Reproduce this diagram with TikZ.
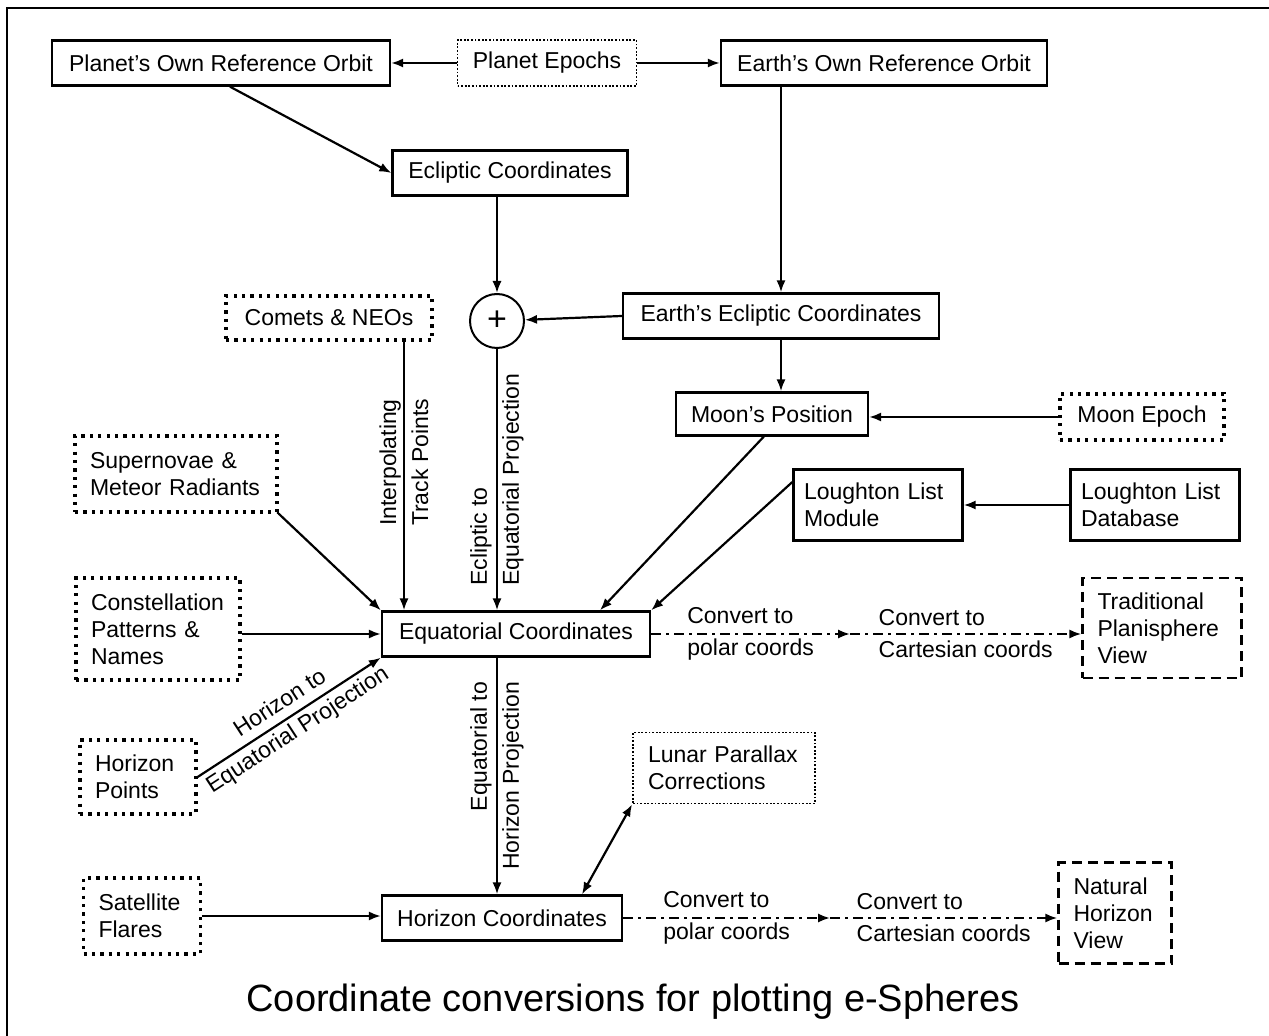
\documentclass[tikz,border=0pt]{standalone}
\usepackage{fontspec}
\setmainfont{Liberation Sans}
\usepackage{tikz}
\usetikzlibrary{arrows.meta,shapes}

\begin{document}
\begin{tikzpicture}[x=0.5pt,y=-0.5pt,>={Latex[length=6pt,width=4.6pt]},
every node/.style={font=\fontsize{11.5}{13.5}\selectfont},
solidbox/.style={draw,line width=1.2pt,minimum height=22.5pt,inner xsep=7.5pt},
srcbox/.style={draw,line width=1.6pt,dash pattern=on 1.6pt off 2.6pt,inner xsep=7.5pt},
epochbox/.style={draw,line width=0.9pt,dash pattern=on 0.9pt off 0.9pt,inner xsep=7.5pt},
viewbox/.style={draw,line width=1.2pt,dash pattern=on 5pt off 3pt,inner xsep=7.5pt},
multi/.style={align=left},
lbl/.style={font=\fontsize{11.5}{16}\selectfont},
link/.style={line width=1.1pt,->},
convert/.style={line width=1.1pt,->,dash pattern=on 5pt off 2.5pt on 1.5pt off 2.5pt}]
\useasboundingbox (0,0) rectangle (1269,1036);
\draw[line width=1.2pt] (7,1036) |- (1269,8);
\node[solidbox,minimum width=169pt] (planet) at (221,63) {Planet's Own Reference Orbit};
\node[epochbox,minimum width=89.5pt,minimum height=23pt] (pepoch) at (547,63) {Planet Epochs};
\node[solidbox,minimum width=163pt] (earth) at (884,63) {Earth's Own Reference Orbit};
\node[solidbox,minimum width=117.5pt] (eclip) at (510,173) {Ecliptic Coordinates};
\node[draw,circle,line width=1pt,minimum size=27pt,inner sep=0pt,font=\fontsize{17}{17}\selectfont] (plus) at (497,321) {+};
\node[solidbox,minimum width=158pt] (eecl) at (781,316) {Earth's Ecliptic Coordinates};
\node[srcbox,minimum width=103pt,minimum height=22pt] (comets) at (329,318) {Comets \& NEOs};
\node[solidbox,minimum width=95pt,minimum height=21.5pt] (moonpos) at (772,414) {Moon's Position};
\node[srcbox,minimum width=82pt,minimum height=23pt] (moonep) at (1142,417) {Moon Epoch};
\node[srcbox,multi,text width=86pt,minimum height=38pt] (snova) at (176,474) {Supernovae \&\\Meteor Radiants};
\node[solidbox,multi,text width=74pt,inner xsep=5.25pt,minimum height=35.5pt] (loughmod) at (878,505) {Loughton List\\Module};
\node[solidbox,multi,text width=74pt,inner xsep=5.25pt,minimum height=35.5pt] (loughdb) at (1155,505) {Loughton List\\Database};
\node[srcbox,multi,text width=67pt,minimum height=51pt] (constel) at (158,629) {Constellation\\Patterns \&\\Names};
\node[solidbox,minimum width=134pt] (equat) at (516,634) {Equatorial Coordinates};
\node[viewbox,multi,text width=64.5pt,minimum height=50pt] (trad) at (1162,628) {Traditional\\Planisphere\\View};
\node[srcbox,multi,text width=43pt,minimum height=37pt] (hpoints) at (138,777) {Horizon\\Points};
\node[epochbox,multi,text width=76pt,minimum height=35.5pt] (lunar) at (724,768) {Lunar Parallax\\Corrections};
\node[srcbox,multi,text width=43.5pt,minimum height=38pt] (satfl) at (142,916) {Satellite\\Flares};
\node[solidbox,minimum width=120pt] (horiz) at (502,918) {Horizon Coordinates};
\node[viewbox,multi,text width=41.5pt,minimum height=50.5pt] (natural) at (1115,913) {Natural\\Horizon\\View};
\node (title) at (633,1002) {\fontsize{19}{22}\selectfont Coordinate conversions for plotting e-Spheres};
\coordinate (cvA) at (850,634);
\coordinate (cvB) at (830,918);
\draw[link] (pepoch.west) -- (planet.east);
\draw[link] (pepoch.east) -- (earth.west);
\draw[link] ([xshift=4.5pt]planet.south) -- (eclip.west);
\draw[link] (eclip.south -| plus.north) -- (plus.north);
\draw[link] (earth.south -| eecl.north) -- (eecl.north);
\draw[link] (eecl.west) -- (plus);
\draw[link] (eecl.south) -- (eecl.south |- moonpos.north);
\draw[link] (moonep.west) -- (moonep.west -| moonpos.east);
\draw[link] (loughdb.west) -- (loughmod.east);
\draw[link] (moonpos.250) -- ([xshift=42pt]equat.north);
\draw[link] (loughmod.165) -- (equat.north east);
\draw[link] (snova.south east) -- (equat.north west);
\draw[link] (constel.east |- equat.west) -- (equat.west);
\draw[link] ([xshift=37.5pt]comets.south) -- ([xshift=37.5pt]comets.south |- equat.north)
node[lbl,pos=0.45,rotate=90,align=center]{Interpolating\\Track Points};
\draw[link] (plus.south) -- (plus.south |- equat.north)
node[lbl,midway,rotate=90,align=left]{Ecliptic to\\Equatorial Projection};
\draw[link] (hpoints.east) -- (equat.south west)
node[lbl,midway,sloped,align=center]{Horizon to\\Equatorial Projection};
\draw[link] (equat.south -| plus.south) -- (horiz.north -| plus.south)
node[lbl,midway,rotate=90,align=right]{Equatorial to\\Horizon Projection};
\draw[link] (satfl.east) -- (satfl.east -| horiz.west);
\draw[link,<->] ([xshift=40pt]horiz.north) -- (lunar.south west);
\draw[convert] (equat.east) -- (cvA) node[lbl,midway,align=left]{Convert to\\polar coords};
\draw[convert] (cvA) -- (cvA -| trad.west) node[lbl,midway,align=left]{Convert to\\Cartesian coords};
\draw[convert] (horiz.east) -- (cvB) node[lbl,midway,align=left]{Convert to\\polar coords};
\draw[convert] (cvB) -- (cvB -| natural.west) node[lbl,midway,align=left]{Convert to\\Cartesian coords};
\end{tikzpicture}
\end{document}
